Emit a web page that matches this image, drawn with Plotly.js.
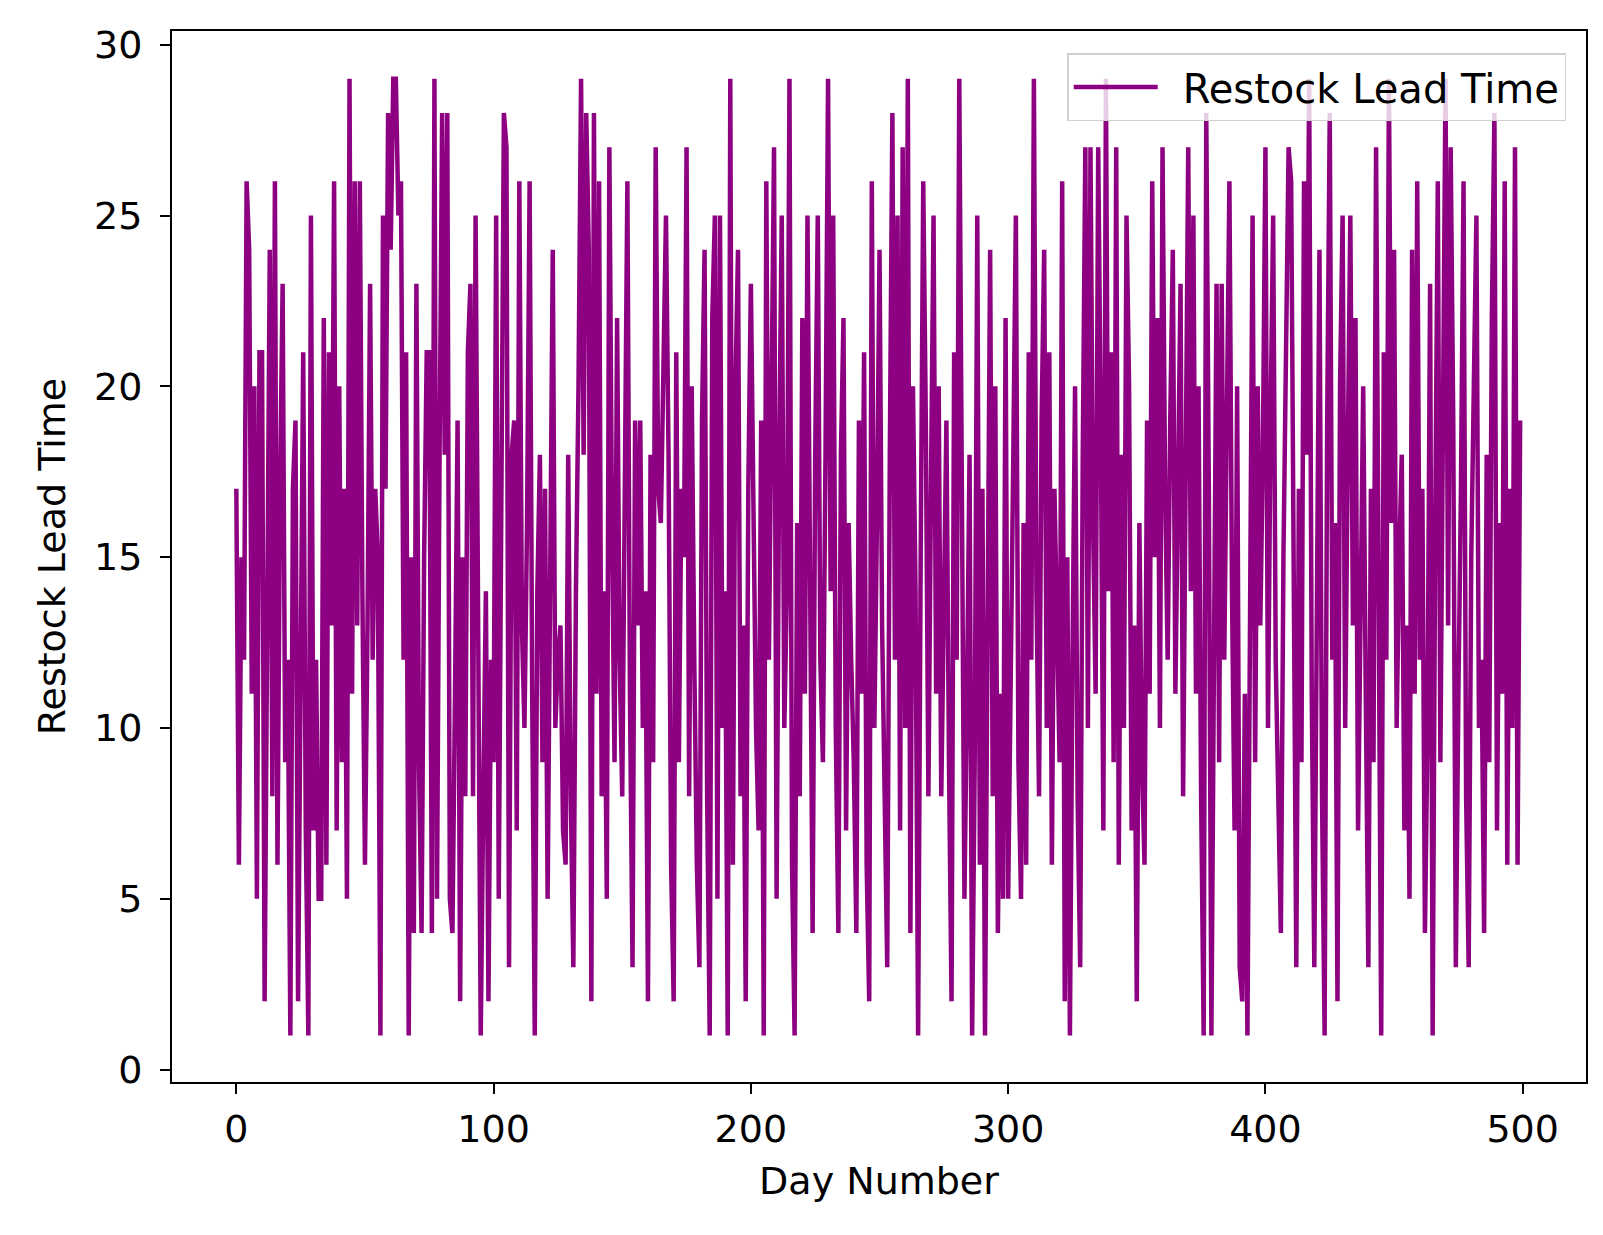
<!DOCTYPE html>
<html>
<head>
<meta charset="utf-8">
<script src="https://cdn.plot.ly/plotly-3.0.1.min.js"></script>
<style>
  html, body { margin: 0; padding: 0; background: #fff; }
  #chart { width: 1603px; height: 1235px; }
</style>
</head>
<body>
<div id="chart"></div>
<script>
// restock lead time per day (days 0..499)
var leadTime = [
  17, 6, 15, 12, 26, 24, 11, 20, 5, 21,
  21, 2, 13, 24, 8, 26, 6, 17, 23, 9,
  12, 1, 17, 19, 2, 10, 21, 7, 1, 25,
  7, 12, 5, 5, 22, 6, 21, 13, 26, 7,
  20, 9, 17, 5, 29, 11, 26, 13, 26, 14,
  6, 13, 23, 12, 17, 15, 1, 25, 17, 28,
  24, 29, 29, 25, 26, 12, 21, 1, 15, 4,
  23, 9, 4, 15, 21, 21, 4, 29, 5, 18,
  28, 18, 28, 5, 4, 11, 19, 2, 15, 8,
  21, 23, 8, 25, 13, 1, 8, 14, 2, 12,
  9, 25, 5, 15, 28, 27, 3, 18, 19, 7,
  26, 13, 10, 16, 26, 11, 1, 14, 18, 9,
  17, 5, 13, 24, 10, 12, 13, 7, 6, 18,
  8, 3, 14, 20, 29, 18, 28, 24, 2, 28,
  11, 26, 8, 14, 5, 27, 16, 9, 22, 12,
  8, 17, 26, 11, 3, 19, 13, 19, 10, 14,
  2, 18, 9, 27, 17, 16, 20, 25, 18, 6,
  2, 21, 9, 17, 15, 27, 8, 20, 12, 6,
  3, 19, 24, 8, 1, 22, 25, 5, 25, 10,
  14, 1, 29, 6, 20, 24, 8, 13, 2, 17,
  23, 16, 10, 7, 19, 1, 26, 12, 20, 27,
  5, 18, 25, 10, 14, 29, 6, 1, 16, 8,
  22, 11, 25, 15, 4, 18, 25, 12, 9, 18,
  29, 14, 25, 10, 4, 18, 22, 7, 16, 12,
  9, 4, 19, 11, 21, 6, 2, 26, 10, 16,
  24, 13, 8, 3, 18, 28, 12, 25, 7, 27,
  10, 29, 4, 20, 14, 1, 15, 26, 19, 8,
  17, 25, 11, 20, 8, 14, 19, 9, 2, 21,
  12, 29, 15, 5, 11, 18, 1, 9, 25, 6,
  17, 1, 13, 24, 8, 20, 4, 11, 5, 22,
  5, 13, 18, 25, 9, 5, 16, 6, 21, 12,
  29, 14, 8, 19, 24, 10, 21, 6, 17, 13,
  9, 26, 2, 15, 1, 12, 20, 8, 3, 18,
  27, 10, 27, 16, 11, 27, 19, 7, 29, 14,
  21, 9, 27, 6, 18, 10, 25, 20, 7, 13,
  2, 16, 9, 6, 19, 11, 26, 15, 22, 10,
  27, 17, 12, 19, 24, 11, 16, 23, 8, 19,
  27, 14, 25, 11, 20, 8, 1, 28, 17, 1,
  15, 23, 9, 23, 12, 18, 26, 14, 7, 20,
  3, 2, 11, 1, 16, 25, 9, 20, 13, 18,
  27, 10, 19, 25, 12, 7, 4, 15, 21, 27,
  26, 13, 3, 17, 9, 26, 18, 29, 11, 3,
  14, 24, 8, 1, 19, 28, 12, 16, 2, 20,
  25, 10, 18, 25, 13, 22, 7, 14, 20, 11,
  3, 17, 9, 27, 14, 1, 21, 12, 29, 16,
  24, 10, 15, 18, 7, 13, 5, 24, 11, 26,
  12, 17, 4, 10, 23, 1, 16, 26, 9, 20,
  29, 13, 27, 19, 3, 11, 17, 26, 8, 3,
  15, 20, 25, 10, 12, 4, 18, 9, 22, 28,
  7, 16, 11, 26, 6, 17, 10, 27, 6, 19
];
var days = leadTime.map((v, i) => i);

var xTicks = [0, 100, 200, 300, 400, 500];
var yTicks = [0, 5, 10, 15, 20, 25, 30];

var trace = {
  x: days,
  y: leadTime,
  type: 'scatter',
  mode: 'lines',
  // en space keeps the gap between the legend line and its label
  name: '\u2002Restock Lead Time',
  line: {color: '#8e0082', width: 4.5}
};

var fnt = {family: 'DejaVu Sans, sans-serif', size: 38, color: '#000'};

var layout = {
  width: 1603,
  height: 1235,
  margin: {l: 172, r: 17, t: 31, b: 153},
  paper_bgcolor: '#fff',
  plot_bgcolor: '#fff',
  font: fnt,
  showlegend: true,
  legend: {
    x: 0.986, xanchor: 'right',
    y: 0.979, yanchor: 'top',
    bgcolor: 'rgba(255,255,255,0.8)',
    bordercolor: '#d0d0d0',
    borderwidth: 1.5,
    font: {family: 'DejaVu Sans, sans-serif', size: 40, color: '#000'},
    itemwidth: 84
  },
  xaxis: {
    range: [-25, 524.6],
    tickvals: xTicks,
    ticks: 'outside', ticklen: 10, tickwidth: 2, tickcolor: '#000',
    ticklabelstandoff: 2,
    showline: true, linecolor: '#000', linewidth: 2, mirror: true,
    showgrid: false, zeroline: false,
    tickfont: fnt,
    title: {text: 'Day Number', font: fnt, standoff: 18}
  },
  yaxis: {
    range: [-0.36, 30.4],
    tickvals: yTicks,
    ticks: 'outside', ticklen: 10, tickwidth: 2, tickcolor: '#000',
    ticklabelstandoff: 10,
    showline: true, linecolor: '#000', linewidth: 2, mirror: true,
    showgrid: false, zeroline: false,
    tickfont: fnt,
    title: {text: 'Restock Lead Time', font: fnt, standoff: 17}
  }
};

Plotly.newPlot('chart', [trace], layout, {displayModeBar: false, staticPlot: true});
</script>
</body>
</html>
